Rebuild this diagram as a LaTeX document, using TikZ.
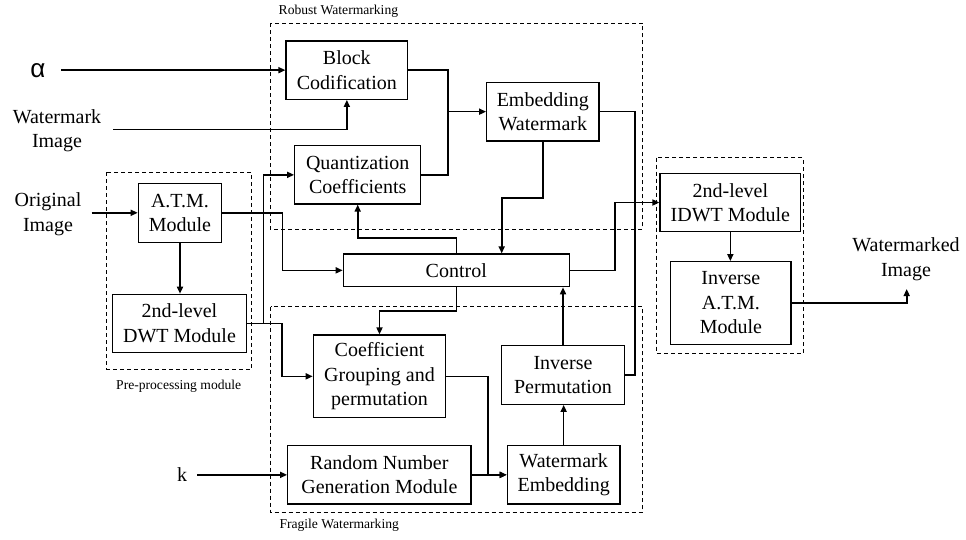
\documentclass[tikz,border=0pt]{standalone}
\usepackage{fontspec}
\setmainfont{Liberation Serif}
\newfontfamily\greekfont{Liberation Sans}
\usetikzlibrary{arrows.meta}
\begin{document}
\begin{tikzpicture}[x=1pt,y=-1pt,
  box/.style={draw,line width=1.2pt,inner sep=0pt,align=center,
    font=\fontsize{20}{24.5}\selectfont},
  lbl/.style={inner sep=0pt,align=center,font=\fontsize{20}{24.5}\selectfont},
  grp/.style={draw,dashed,line width=1pt,dash pattern=on 4pt off 3pt},
  grplbl/.style={inner sep=0pt,anchor=west,font=\fontsize{13.6}{16}\selectfont},
  wire/.style={line width=1.6pt},
  arr/.style={wire,-{Triangle[length=7pt,width=6pt]}}]
\useasboundingbox (0,0) rectangle (966,539);

% dashed module groups
\draw[grp] (270,23.3) rectangle (642.7,229);
\draw[grp] (270.7,306.7) rectangle (642.3,512.7);
\draw[grp] (106.7,172.3) rectangle (251.7,369);
\draw[grp] (656.7,157.7) rectangle (803.3,353.3);
\node[grplbl] (lrob) at (278.5,11) {Robust Watermarking};
\node[grplbl] (lfra) at (279.3,525) {Fragile Watermarking};
\node[grplbl] (lpre) at (116,386) {Pre-processing module};

% processing blocks
\node[box,minimum width=121.7pt,minimum height=58.3pt] (bc) at (346.85,70.15) {Block\\Codification};
\node[box,minimum width=126pt,minimum height=58.3pt] (qc) at (357.7,174.85) {Quantization\\Coefficients};
\node[box,minimum width=112.3pt,minimum height=58.7pt] (ew) at (542.85,111.65) {Embedding\\Watermark};
\node[box,minimum width=226pt,minimum height=32.7pt] (ctl) at (456.3,270.35) {Control};
\node[box,minimum width=132.4pt,minimum height=82.7pt] (cg) at (379.5,376.35) {Coefficient\\Grouping and\\permutation};
\node[box,minimum width=183.3pt,minimum height=58.3pt] (rn) at (379.35,474.85) {Random Number\\Generation Module};
\node[box,minimum width=112.7pt,minimum height=58.3pt] (we) at (563.65,474.85) {Watermark\\Embedding};
\node[box,minimum width=122.6pt,minimum height=58.6pt] (ip) at (563,375) {Inverse\\Permutation};
\node[box,minimum width=83.4pt,minimum height=59pt] (atm) at (180,212.8) {A.T.M.\\Module};
\node[box,minimum width=134.4pt,minimum height=58pt] (dwt) at (179.5,323.3) {2nd-level\\DWT Module};
\node[box,minimum width=140.7pt,minimum height=58.4pt] (idwt) at (730.35,202.5) {2nd-level\\IDWT Module};
\node[box,minimum width=120.3pt,minimum height=82.6pt] (iatm) at (730.85,303) {Inverse\\A.T.M.\\Module};

% inputs and output
\node[inner sep=0pt,font=\greekfont\fontsize{26}{30}\selectfont] (alpha) at (38,70.15) {α};
\node[lbl] (wmi) at (57,130.5) {Watermark\\Image};
\node[lbl] (oi) at (48,214) {Original\\Image};
\node[lbl] (kin) at (182,475) {k};
\node[lbl] (wmd) at (906,259) {Watermarked\\Image};
\coordinate (alin) at (61,70.15);
\coordinate (wmin) at (113.3,129.3);
\coordinate (oiin) at (91.7,212.8);
\coordinate (kinp) at (197,474.85);
\coordinate (wout) at (906.7,289);

% connectors
\draw[arr] (alin) -- (bc.west);
\draw[arr] (wmin) -| (bc.south);
\draw[arr] (oiin) -- (atm.west);
\draw[arr] (atm.east) -- (282.3,212.8) |- (ctl.west);
\draw[arr] (atm.south) -- (atm.south |- dwt.north);
\draw[arr] (dwt.east) -- (263.3,323.3) |- (qc.west);
\draw[arr] (dwt.east) -- (281.7,323.3) |- (cg.west);
\draw[arr] (bc.east) -- (447.7,70.15) |- (ew.west);
\draw[wire] (qc.east) -| (447.7,111.65);
\draw[arr] (ew.south) -- (542.85,197.7) -| ([xshift=45.4pt]ctl.north);
\draw[arr] (ctl.north) -- (456.3,238) -| (qc.south);
\draw[arr] (ctl.east) -- (615,270.35) |- (idwt.west);
\draw[arr] (ctl.south) -- (456.3,310.7) -| (cg.north);
\draw[arr] (cg.east) -| (487.7,474.85) -- (we.west);
\draw[arr] (rn.east) -- (we.west);
\draw[arr] (kinp) -- (rn.west);
\draw[arr] (we.north) -- (we.north |- ip.south);
\draw[arr] (ip.north) -- (ip.north |- ctl.south);
\draw[wire] (ew.east) -- (635,111.65) |- (ip.east);
\draw[arr] (idwt.south) -- (idwt.south |- iatm.north);
\draw[arr] (iatm.east) -| (wout);
\end{tikzpicture}
\end{document}
